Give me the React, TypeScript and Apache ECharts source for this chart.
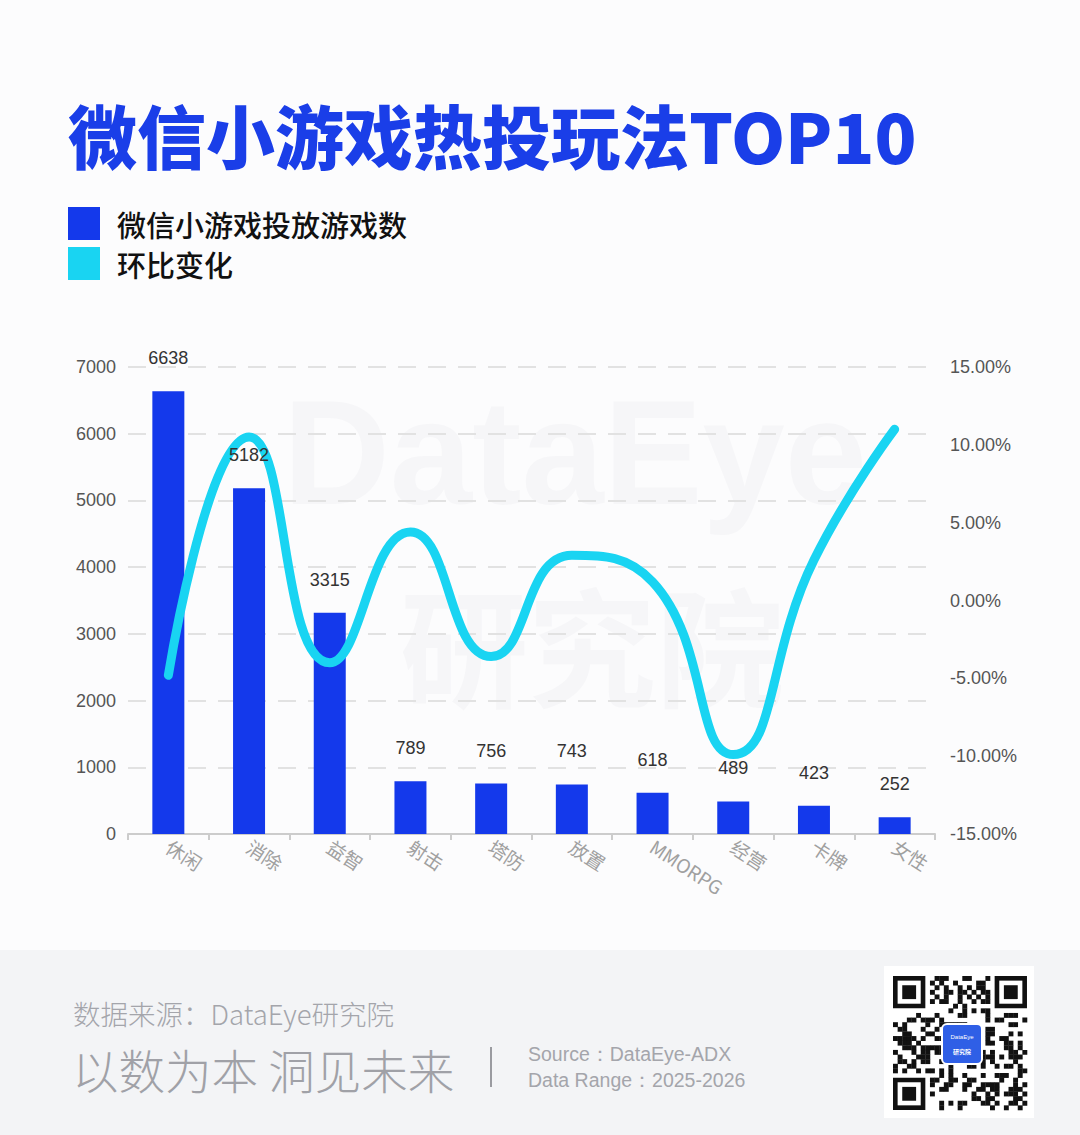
import React, { useEffect, useRef } from "react";
import * as echarts from "echarts";

const categories = ["休闲", "消除", "益智", "射击", "塔防", "放置", "MMORPG", "经营", "卡牌", "女性"];
const gameCounts = [6638, 5182, 3315, 789, 756, 743, 618, 489, 423, 252];
const momChange = [-4.8, 10.5, -4.0, 4.4, -3.6, 2.9, 1.2, -9.9, 2.6, 11.0];
const leftTicks = [0, 1000, 2000, 3000, 4000, 5000, 6000, 7000];
const rightTicks = [-15, -10, -5, 0, 5, 10, 15];

const TITLE = "微信小游戏热投玩法TOP10";
const LEGEND_BAR = "微信小游戏投放游戏数";
const LEGEND_LINE = "环比变化";
const SOURCE_LINE = "数据来源：DataEye研究院";
const SLOGAN = "以数为本 洞见未来";
const SOURCE_EN = "Source：DataEye-ADX";
const RANGE_EN = "Data Range：2025-2026";

const BLUE = "#1439eb";
const CYAN = "#19d4f2";
const CJK = "'Noto Sans CJK SC', 'Noto Sans', sans-serif";
const ARIAL = "'Liberation Sans', Arial, sans-serif";

function buildQr(): any[] {
  const els: any[] = [];
  const N = 29;
  const s = 4.62;
  const ox = 893;
  const oy = 976;
  const inFinder = (i: number, j: number) =>
    (i < 8 && j < 8) || (i < 8 && j >= N - 8) || (i >= N - 8 && j < 8);
  const finder = (fi: number, fj: number) => {
    const x = ox + fj * s;
    const y = oy + fi * s;
    els.push({ type: "rect", shape: { x, y, width: 7 * s, height: 7 * s }, style: { fill: "#111" }, z: 20 });
    els.push({ type: "rect", shape: { x: x + s, y: y + s, width: 5 * s, height: 5 * s }, style: { fill: "#fff" }, z: 21 });
    els.push({ type: "rect", shape: { x: x + 2 * s, y: y + 2 * s, width: 3 * s, height: 3 * s }, style: { fill: "#111" }, z: 22 });
  };
  finder(0, 0);
  finder(0, N - 7);
  finder(N - 7, 0);
  for (let i = 0; i < N; i++) {
    for (let j = 0; j < N; j++) {
      if (inFinder(i, j)) continue;
      if (i >= 11 && i <= 17 && j >= 11 && j <= 17) continue;
      const h = ((i * 31 + j * 17) ^ (i * j * 7 + 3)) % 7;
      if (h < 3) {
        els.push({
          type: "rect",
          shape: { x: ox + j * s, y: oy + i * s, width: s + 0.3, height: s + 0.3 },
          style: { fill: "#111" },
          z: 20,
        });
      }
    }
  }
  els.push({
    type: "rect",
    shape: { x: 942, y: 1024, width: 40, height: 40, r: 5 },
    style: { fill: "#2f5fe6", stroke: "#fff", lineWidth: 2 },
    z: 25,
  });
  els.push({
    type: "text",
    x: 962,
    y: 1037,
    style: { text: "DataEye", fill: "#fff", font: `6px ${ARIAL}`, textAlign: "center", textVerticalAlign: "middle" },
    z: 26,
  });
  els.push({
    type: "text",
    x: 962,
    y: 1051,
    style: { text: "研究院", fill: "#fff", font: `bold 6px ${CJK}`, textAlign: "center", textVerticalAlign: "middle" },
    z: 26,
  });
  return els;
}

export default function App() {
  const ref = useRef<HTMLDivElement>(null);

  useEffect(() => {
    if (!ref.current) return;
    const chart = echarts.init(ref.current, undefined, { renderer: "svg" });

    const graphics: any[] = [
      // footer background
      { type: "rect", shape: { x: 0, y: 950, width: 1080, height: 185 }, style: { fill: "#f3f4f6" }, z: -20 },
      // watermark
      {
        type: "text",
        x: 575,
        y: 452,
        style: { text: "DataEye", fill: "#f6f6f8", font: `bold 148px ${ARIAL}`, textAlign: "center", textVerticalAlign: "middle" },
        z: -10,
        silent: true,
      },
      {
        type: "text",
        x: 592,
        y: 642,
        style: { text: "研究院", fill: "#f6f6f8", font: `bold 128px ${CJK}`, textAlign: "center", textVerticalAlign: "middle" },
        z: -10,
        silent: true,
      },
      // title
      {
        type: "text",
        x: 68,
        y: 134,
        style: { text: TITLE, fill: "#1a3ee8", font: `900 69px ${CJK}`, textVerticalAlign: "middle" },
      },
      // legend
      { type: "rect", shape: { x: 68, y: 207, width: 32, height: 33 }, style: { fill: BLUE } },
      {
        type: "text",
        x: 117,
        y: 224,
        style: { text: LEGEND_BAR, fill: "#111", font: `500 29px ${CJK}`, textVerticalAlign: "middle" },
      },
      { type: "rect", shape: { x: 68, y: 247, width: 32, height: 33 }, style: { fill: CYAN } },
      {
        type: "text",
        x: 117,
        y: 264,
        style: { text: LEGEND_LINE, fill: "#111", font: `500 29px ${CJK}`, textVerticalAlign: "middle" },
      },
      // footer texts
      {
        type: "text",
        x: 73,
        y: 1013,
        style: { text: SOURCE_LINE, fill: "#a4a5ab", font: `300 27.5px ${CJK}`, textVerticalAlign: "middle" },
      },
      {
        type: "text",
        x: 72,
        y: 1068,
        style: { text: SLOGAN, fill: "#a0a1a7", font: `300 46.5px ${CJK}`, textVerticalAlign: "middle" },
      },
      { type: "line", shape: { x1: 491, y1: 1047, x2: 491, y2: 1087 }, style: { stroke: "#9a9ba0", lineWidth: 2 } },
      {
        type: "text",
        x: 528,
        y: 1054,
        style: { text: SOURCE_EN, fill: "#a4a5ab", font: `19.5px ${ARIAL}`, textVerticalAlign: "middle" },
      },
      {
        type: "text",
        x: 528,
        y: 1080,
        style: { text: RANGE_EN, fill: "#a4a5ab", font: `19.5px ${ARIAL}`, textVerticalAlign: "middle" },
      },
      // QR box
      { type: "rect", shape: { x: 884, y: 966, width: 150, height: 152 }, style: { fill: "#ffffff" }, z: 15 },
      ...buildQr(),
    ];

    chart.setOption({
      animation: false,
      backgroundColor: "#fcfcfd",
      grid: { left: 128, right: 145, top: 367, bottom: 301, containLabel: false },
      tooltip: { show: false },
      xAxis: {
        type: "category",
        data: categories,
        boundaryGap: true,
        axisLine: { show: true, lineStyle: { color: "#cccccc", width: 2 } },
        axisTick: { show: true, length: 6, lineStyle: { color: "#cccccc", width: 2 } },
        axisLabel: {
          rotate: -33,
          interval: 0,
          margin: 10,
          color: "#a0a0a0",
          fontSize: 19,
          fontFamily: CJK,
        },
      },
      yAxis: [
        {
          type: "value",
          min: leftTicks[0],
          max: leftTicks[leftTicks.length - 1],
          interval: leftTicks[1] - leftTicks[0],
          axisLine: { show: false },
          axisTick: { show: false },
          axisLabel: {
            color: "#555555",
            fontSize: 18,
            fontFamily: ARIAL,
            margin: 12,
            formatter: (v: number) => String(v),
          },
          splitLine: { show: true, lineStyle: { color: "#e2e2e2", width: 2, type: [18, 12] } },
        },
        {
          type: "value",
          min: rightTicks[0],
          max: rightTicks[rightTicks.length - 1],
          interval: rightTicks[1] - rightTicks[0],
          position: "right",
          axisLine: { show: false },
          axisTick: { show: false },
          splitLine: { show: false },
          axisLabel: {
            color: "#555555",
            fontSize: 18,
            fontFamily: ARIAL,
            margin: 15,
            formatter: (v: number) => `${v.toFixed(2)}%`,
          },
        },
      ],
      series: [
        {
          name: LEGEND_BAR,
          type: "bar",
          data: gameCounts,
          yAxisIndex: 0,
          barWidth: 32,
          itemStyle: { color: BLUE },
          z: 2,
        },
        {
          name: LEGEND_LINE,
          type: "line",
          data: momChange,
          yAxisIndex: 1,
          smooth: 0.5,
          showSymbol: false,
          symbol: "none",
          lineStyle: { color: CYAN, width: 9, cap: "round" },
          itemStyle: { color: CYAN },
          z: 3,
        },
        {
          name: "labels",
          type: "bar",
          data: gameCounts,
          yAxisIndex: 0,
          barWidth: 32,
          barGap: "-100%",
          itemStyle: { color: "rgba(0,0,0,0)" },
          label: {
            show: true,
            position: "top",
            distance: 24,
            color: "#333333",
            fontSize: 18,
            fontFamily: ARIAL,
          },
          silent: true,
          z: 5,
        },
      ],
      graphic: { elements: graphics },
    });

    return () => {
      chart.dispose();
    };
  }, []);

  return (
    <div
      ref={ref}
      style={{ position: "absolute", left: 0, top: 0, width: 1080, height: 1135, background: "#fcfcfd" }}
    />
  );
}
